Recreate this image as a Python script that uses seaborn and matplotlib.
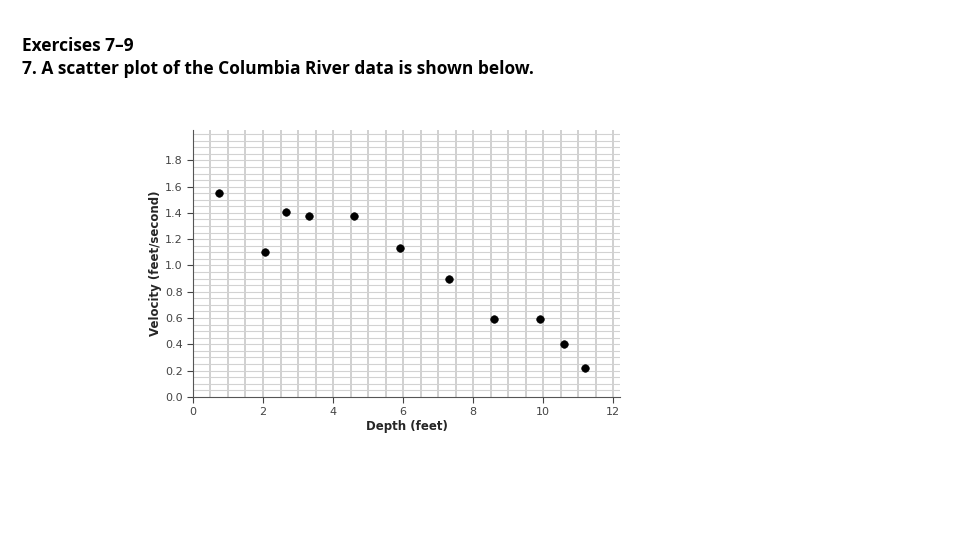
import numpy as np
import matplotlib
matplotlib.use("Agg")
import matplotlib.pyplot as plt
import seaborn as sns

depth = [0.75, 2.05, 2.65, 3.3, 4.6, 5.9, 7.3, 8.6, 9.9, 10.6, 11.2]
velocity = [1.55, 1.10, 1.41, 1.38, 1.38, 1.13, 0.90, 0.59, 0.59, 0.40, 0.22]
x_ticks = [0, 2, 4, 6, 8, 10, 12]
y_ticks = [0.0, 0.2, 0.4, 0.6, 0.8, 1.0, 1.2, 1.4, 1.6, 1.8]

sns.set_style("white")
plt.rcParams["font.family"] = ["DejaVu Sans"]

fig = plt.figure(figsize=(9.6, 5.4), dpi=100)
fig.text(0.023, 0.855, "Exercises 7\u20139\n7. A scatter plot of the Columbia River data is shown below.",
         fontsize=12.5, fontweight="bold", va="bottom", color="black",
         family=["Open Sans", "DejaVu Sans"], linespacing=1.35)

ax = fig.add_axes([0.201, 0.265, 0.445, 0.494])
ax.set_xlim(0, 12.2)
ax.set_ylim(0, 2.03)
for xv in np.arange(0.5, 12.2, 0.5):
    ax.axvline(xv, color="#c8c8c8", lw=1.2, zorder=0)
for yv in np.arange(0.05, 2.03, 0.05):
    ax.axhline(yv, color="#d2d2d2", lw=0.8, zorder=0)

sns.scatterplot(x=depth, y=velocity, ax=ax, color="black", s=30, edgecolor="black", zorder=3)

ax.set_xticks(x_ticks)
ax.set_yticks(y_ticks)
ax.set_yticklabels([f"{v:.1f}" for v in y_ticks])
ax.tick_params(labelsize=8, colors="#444444", length=4, direction="out")
ax.tick_params(axis="y", left=True)
ax.tick_params(axis="x", bottom=True)
for s in ["top", "right"]:
    ax.spines[s].set_visible(False)
for s in ["left", "bottom"]:
    ax.spines[s].set_color("#555555")
ax.set_xlabel("Depth (feet)", fontsize=8.5, fontweight="bold", labelpad=2)
ax.set_ylabel("Velocity (feet/second)", fontsize=8.5, fontweight="bold", labelpad=2)

fig.savefig("out.png", dpi=100)
